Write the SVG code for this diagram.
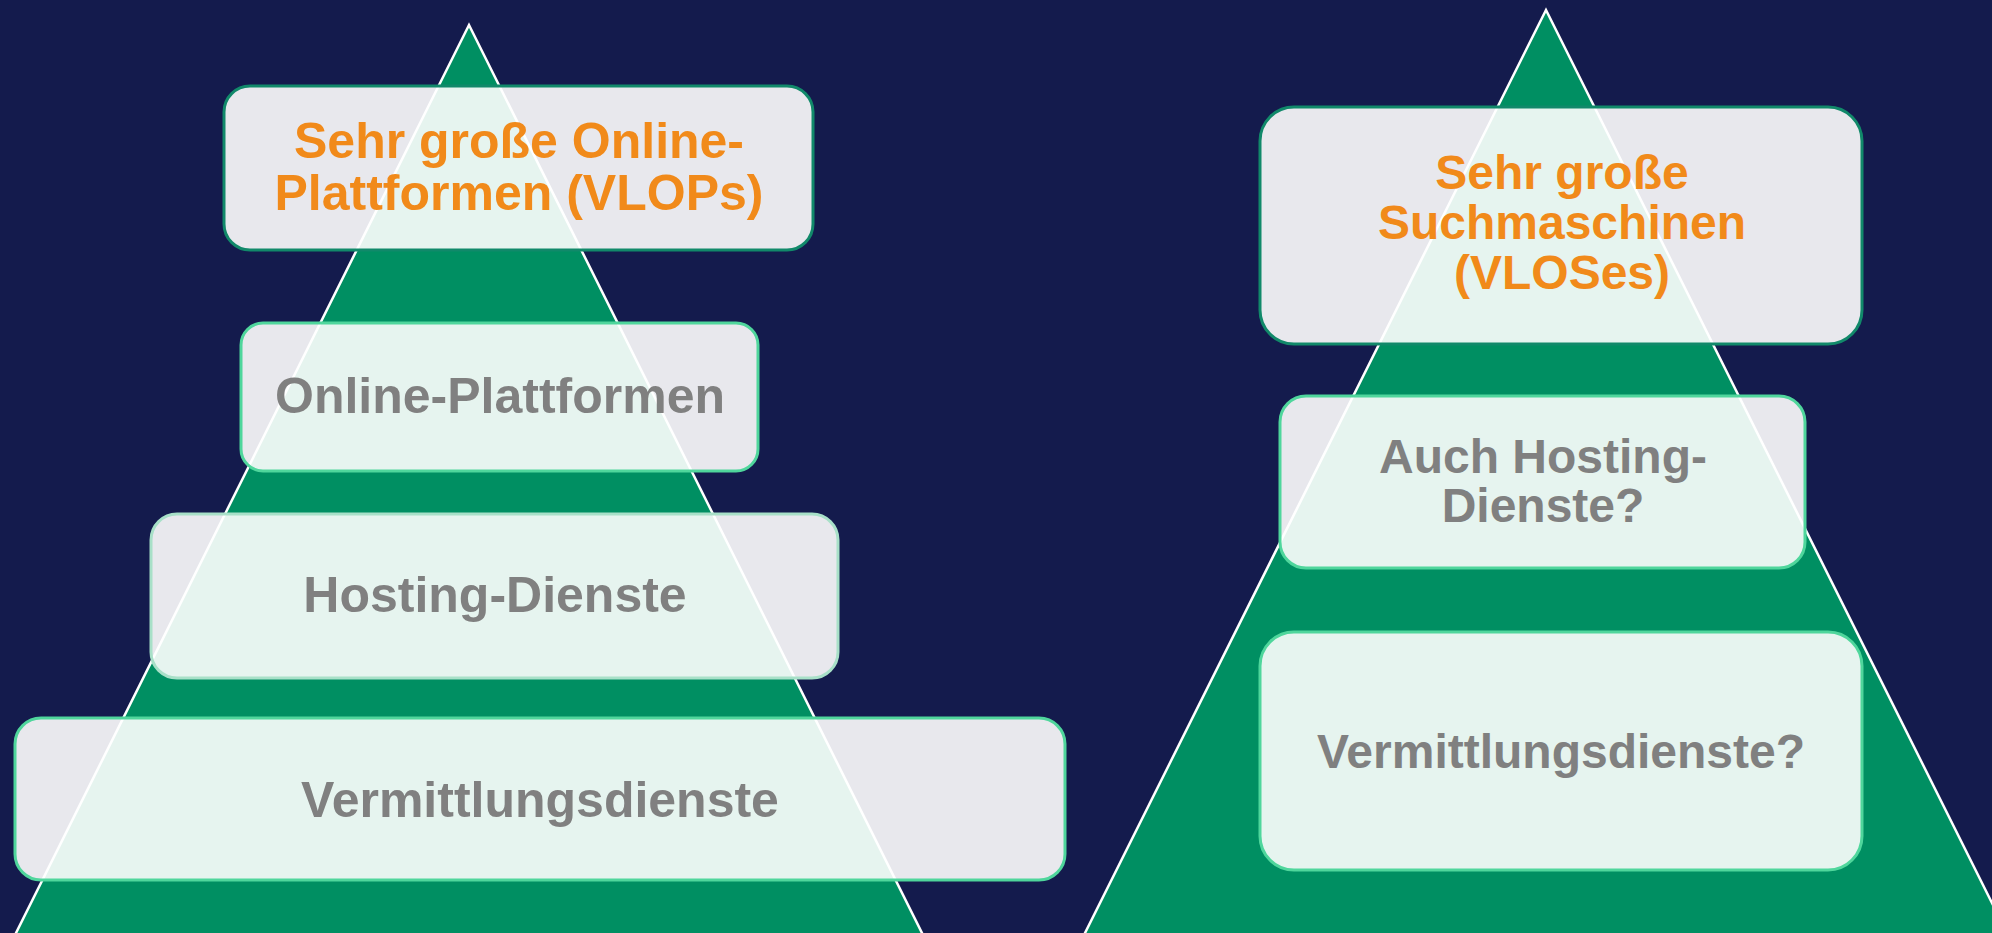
<svg xmlns="http://www.w3.org/2000/svg" width="1992" height="933" viewBox="0 0 1992 933">
<style>
.tri{fill:#008f62;stroke:#ffffff;stroke-width:2.5}
.box{fill:#ffffff;fill-opacity:0.9;stroke-width:3}
.dark{stroke:#11896a}
.mint{stroke:#4fd69c}
.pale{stroke:#a8e0c8}
.t{font-family:"Liberation Sans",Arial,sans-serif;font-weight:bold;text-anchor:middle}
.or{fill:#f18a1a}
.gr{fill:#808080}
</style>
<rect width="1992" height="933" fill="#141b4d"/>
<g id="pyramids">
<polygon class="tri" points="469,25 15,935 923,935"/>
<polygon class="tri" points="1546,10 1084,935 2008,935"/>
</g>
<g id="n-vlops">
<rect class="box dark" x="224" y="86" width="589" height="164" rx="26"/>
<text class="t or" font-size="50" x="519" y="158">Sehr große Online-</text>
<text class="t or" font-size="50" x="519" y="210">Plattformen (VLOPs)</text>
</g>
<g id="n-online">
<rect class="box mint" x="241" y="323" width="517" height="148" rx="22"/>
<text class="t gr" font-size="50" x="500" y="413">Online-Plattformen</text>
</g>
<g id="n-hosting">
<rect class="box pale" x="151" y="514" width="687" height="164" rx="26"/>
<text class="t gr" font-size="50" x="495" y="612">Hosting-Dienste</text>
</g>
<g id="n-vermittlung">
<rect class="box mint" x="15" y="718" width="1050" height="162" rx="26"/>
<text class="t gr" font-size="50" x="540" y="817">Vermittlungsdienste</text>
</g>
<g id="n-vloses">
<rect class="box dark" x="1260" y="107" width="602" height="237" rx="34"/>
<text class="t or" font-size="48" x="1562" y="189">Sehr große</text>
<text class="t or" font-size="48" x="1562" y="239">Suchmaschinen</text>
<text class="t or" font-size="48" x="1562" y="289">(VLOSes)</text>
</g>
<g id="n-auch-hosting">
<rect class="box mint" x="1280" y="396" width="525" height="172" rx="26"/>
<text class="t gr" font-size="48" x="1543" y="473">Auch Hosting-</text>
<text class="t gr" font-size="48" x="1543" y="522">Dienste?</text>
</g>
<g id="n-vermittlung2">
<rect class="box mint" x="1260" y="632" width="602" height="238" rx="34"/>
<text class="t gr" font-size="48" x="1561" y="768">Vermittlungsdienste?</text>
</g>
<g id="connectors"/>
</svg>
